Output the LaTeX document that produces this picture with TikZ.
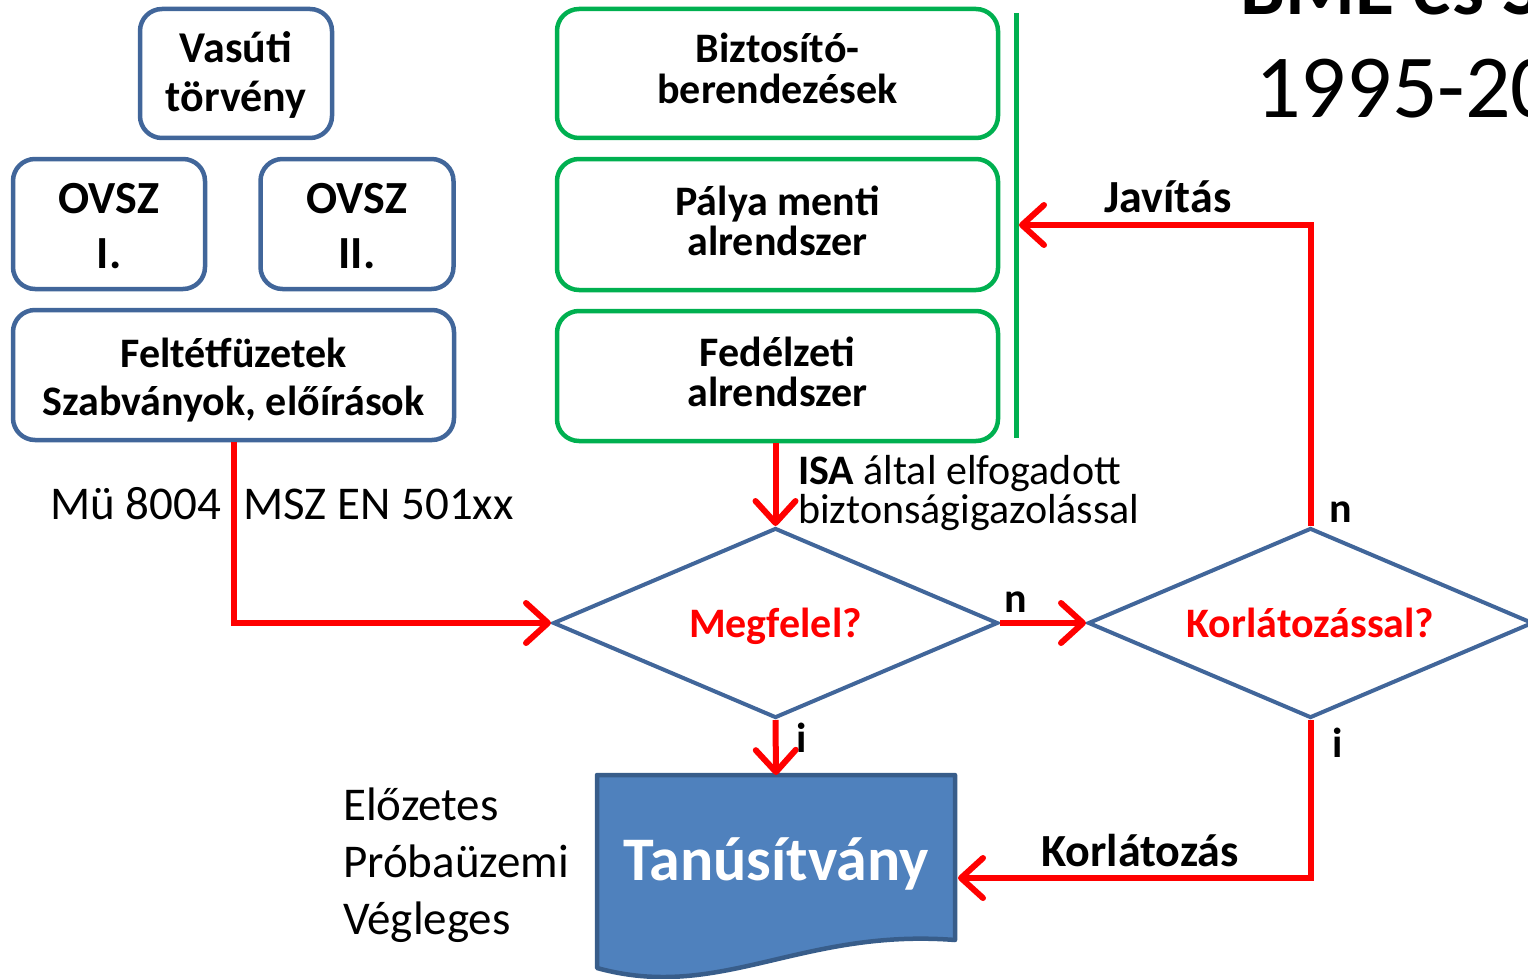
\documentclass[tikz,border=0pt]{standalone}
\usepackage{fontspec}
\setmainfont{Carlito}
\usetikzlibrary{shapes.geometric,arrows.meta}
\definecolor{bbord}{HTML}{41669A}
\definecolor{gbord}{HTML}{00B050}
\definecolor{docfill}{HTML}{4F81BD}
\definecolor{docbord}{HTML}{385D8A}
\begin{document}
\begin{tikzpicture}[x=1pt,y=-1pt,
  bluebox/.style={draw=bbord, line width=4.5pt, rounded corners=22pt, inner sep=0pt},
  greenbox/.style={draw=gbord, line width=4.5pt, rounded corners=22pt, inner sep=0pt},
  btxt/.style={anchor=base, inner sep=0pt, font=\bfseries\fontsize{42}{50}\selectfont},
  ntxt/.style={anchor=base west, inner sep=0pt, font=\fontsize{47}{57}\selectfont},
  itxt/.style={anchor=base west, inner sep=0pt, font=\fontsize{42}{50}\selectfont},
  dia/.style={diamond, draw=bbord, line width=4pt, shape aspect=2.342,
    minimum width=445pt, minimum height=190pt, inner sep=0pt, text=red,
    font=\bfseries\fontsize{42}{50}\selectfont, text height=28pt, text depth=0pt},
  conn/.style={draw=red, line width=6pt, -{Straight Barb[length=22pt, width=40pt, round]}}
]
\useasboundingbox (0,0) rectangle (1528,979);
\clip (0,0) rectangle (1528,979);

% title (cut off)
\node[anchor=base west, inner sep=0pt, font=\bfseries\fontsize{80}{90}\selectfont] (title1) at (1240,15) {BME és S};
\node[anchor=base west, inner sep=0pt, font=\fontsize{90}{100}\selectfont] (title2) at (1255,118) {1995-20};

% blue boxes
\node[bluebox, minimum width=192pt, minimum height=129pt] (vasuti) at (236,73.5) {};
\node[btxt, font=\bfseries\fontsize{44}{50}\selectfont] (vasutiA) at (236,63) {Vasúti};
\node[btxt, font=\bfseries\fontsize{44}{50}\selectfont] (vasutiB) at (236,112) {törvény};

\node[bluebox, minimum width=192pt, minimum height=130pt] (ovsz1) at (109,224) {};
\node[btxt, font=\bfseries\fontsize{46}{55}\selectfont] (ovsz1A) at (109,213) {OVSZ};
\node[btxt, font=\bfseries\fontsize{46}{55}\selectfont] (ovsz1B) at (109,268) {I.};

\node[bluebox, minimum width=193pt, minimum height=130pt] (ovsz2) at (357,224) {};
\node[btxt, font=\bfseries\fontsize{46}{55}\selectfont] (ovsz2A) at (357,213) {OVSZ};
\node[btxt, font=\bfseries\fontsize{46}{55}\selectfont] (ovsz2B) at (357,268) {II.};

\node[bluebox, minimum width=441pt, minimum height=130pt] (felt) at (233.5,375) {};
\node[btxt] (feltA) at (233.5,367) {Feltétfüzetek};
\node[btxt] (feltB) at (233.5,415) {Szabványok, előírások};

% green boxes
\node[greenbox, minimum width=441pt, minimum height=129pt] (bizt) at (777.5,73.5) {};
\node[btxt] (biztA) at (777.5,63) {Biztosító-};
\node[btxt] (biztB) at (777.5,104) {berendezések};

\node[greenbox, minimum width=441pt, minimum height=131pt] (palya) at (777.5,224.5) {};
\node[btxt] (palyaA) at (777.5,215) {Pálya menti};
\node[btxt] (palyaB) at (777.5,255) {alrendszer};

\node[greenbox, minimum width=441pt, minimum height=130pt] (fedel) at (777.5,376) {};
\node[btxt] (fedelA) at (777.5,366) {Fedélzeti};
\node[btxt] (fedelB) at (777.5,406) {alrendszer};

\draw[gbord, line width=5pt] (1016,13) -- (1016,438);
\coordinate (jav) at (1019,225);

% diamonds
\node[dia] (d1) at (775.5,623) {Megfelel?};
\node[dia] (d2) at (1310.5,623) {Korlátozással?};

% document shape
\draw[fill=docfill, draw=docbord, line width=4.5pt, line join=round]
  (597,775) -- (955,775) -- (955,940)
  .. controls (800,928) and (720,1002) .. (597,968) -- cycle;
\node[anchor=base, inner sep=0pt, text=white, font=\bfseries\fontsize{62}{70}\selectfont] (tan) at (776,880) {Tanúsítvány};
\coordinate (tanN) at (776,775);
\coordinate (tanE) at (958,878);

% connectors
\draw[conn] (felt.south) |- (d1.west);
\draw[conn] (fedel.south -| d1.north) -- (d1.north);
\draw[conn] (d1.east) -- (d2.west);
\draw[conn] (d1.south) -- (tanN);
\draw[conn] (d2.north) |- (jav);
\draw[conn] (d2.south) |- (tanE);

% labels
\node[itxt] (isa1) at (798,484) {\textbf{ISA} által elfogadott};
\node[itxt] (isa2) at (798,523) {biztonságigazolással};
\node[ntxt] (mu) at (50,519) {Mü 8004};
\node[ntxt] (msz) at (243,519) {MSZ EN 501xx};
\node[ntxt] (elo) at (343,820) {Előzetes};
\node[ntxt] (prob) at (343,877) {Próbaüzemi};
\node[ntxt] (veg) at (343,934) {Végleges};

\node[btxt] (n1) at (1016,612) {n};
\node[btxt] (i1) at (802,752) {i};
\node[btxt] (n2) at (1341,522) {n};
\node[btxt] (i2) at (1338,757) {i};
\node[btxt, font=\bfseries\fontsize{46}{55}\selectfont] (javlab) at (1168,212) {Javítás};
\node[btxt, font=\bfseries\fontsize{46}{55}\selectfont] (korlab) at (1140,866) {Korlátozás};
\end{tikzpicture}
\end{document}
